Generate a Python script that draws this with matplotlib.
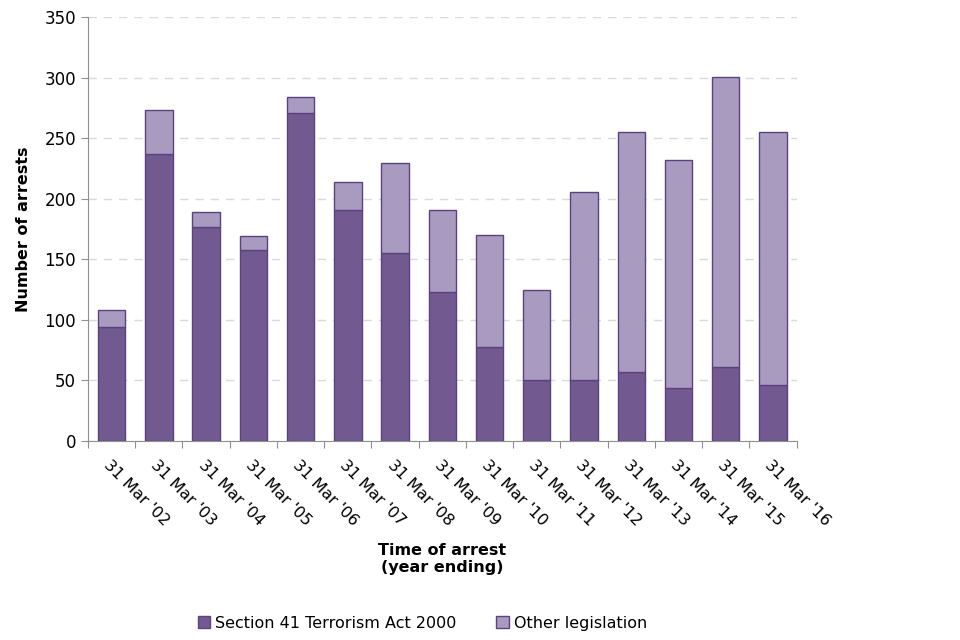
import matplotlib
matplotlib.use("Agg")
import matplotlib.pyplot as plt
import numpy as np

years = ["31 Mar '02", "31 Mar '03", "31 Mar '04", "31 Mar '05", "31 Mar '06",
         "31 Mar '07", "31 Mar '08", "31 Mar '09", "31 Mar '10", "31 Mar '11",
         "31 Mar '12", "31 Mar '13", "31 Mar '14", "31 Mar '15", "31 Mar '16"]
section41 = [94, 237, 177, 158, 271, 191, 155, 123, 78, 50, 50, 57, 44, 61, 46]
totals = [108, 273, 189, 169, 284, 214, 230, 191, 170, 125, 206, 255, 232, 301, 255]
other = [t - s for t, s in zip(totals, section41)]

dark = "#725A91"
light = "#A99BC0"
edge = "#5A4280"

fig = plt.figure(figsize=(9.6, 6.4), dpi=100)
ax = fig.add_axes([0.0917, 0.311, 0.738, 0.662])

x = np.arange(len(years))
ax.bar(x, section41, width=0.58, color=dark, edgecolor=edge, linewidth=1,
       label="Section 41 Terrorism Act 2000", zorder=3)
ax.bar(x, other, width=0.58, bottom=section41, color=light, edgecolor=edge,
       linewidth=1, label="Other legislation", zorder=3)

ax.set_xlim(-0.5, len(years) - 0.5)
ax.set_ylim(0, 350)
ax.set_yticks(range(0, 351, 50))
ax.yaxis.grid(True, linestyle=(0, (6, 5)), color="#dadada", linewidth=1, zorder=0)

for side in ["top", "right"]:
    ax.spines[side].set_visible(False)
for side in ["left", "bottom"]:
    ax.spines[side].set_color("#909090")

# ticks between categories, labels at centres
ax.set_xticks(np.arange(-0.5, len(years), 1.0))
ax.set_xticklabels([])
ax.set_xticks(x, minor=True)
ax.set_xticklabels(years, minor=True, rotation=-45, ha="left", va="top",
                   rotation_mode="anchor", fontsize=11.5)
ax.tick_params(axis="x", which="minor", length=0, pad=12)
ax.tick_params(axis="x", which="major", length=5, color="#909090")
ax.tick_params(axis="y", length=5, color="#909090", labelsize=12)

ax.set_ylabel("Number of arrests", fontsize=11.5, fontweight="bold", labelpad=10)
ax.set_xlabel("Time of arrest\n(year ending)", fontsize=11.5, fontweight="bold",
              labelpad=10)

fig.legend(loc="lower center", bbox_to_anchor=(0.44, -0.008), ncol=2, frameon=False,
           fontsize=11.5, handlelength=0.8, handleheight=0.8, handletextpad=0.3,
           columnspacing=2.5)

fig.savefig("out.png", dpi=100)
